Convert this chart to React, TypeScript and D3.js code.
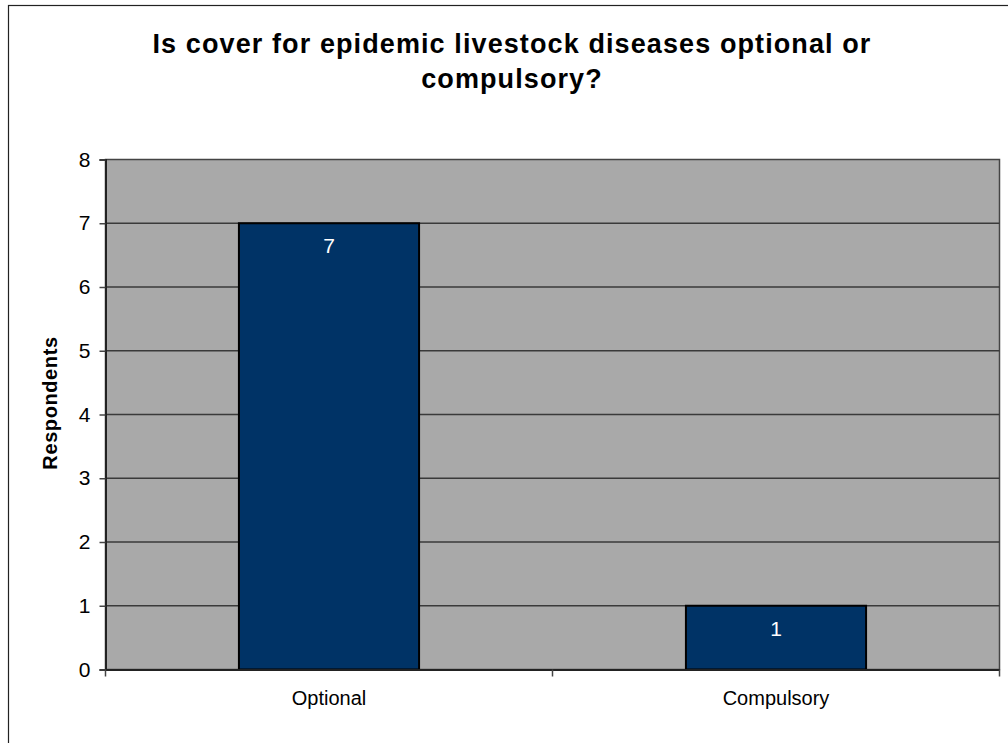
import { useRef, useEffect } from "react";
import * as d3 from "d3";

const categories = ["Optional", "Compulsory"];
const respondents = [7, 1];
const yTicks = [0, 1, 2, 3, 4, 5, 6, 7, 8];
const titleLines = ["Is cover for epidemic livestock diseases optional or", "compulsory?"];
const yAxisTitle = "Respondents";

export default function App() {
  const svgRef = useRef<SVGSVGElement | null>(null);

  useEffect(() => {
    if (!svgRef.current) return;
    const svg = d3.select(svgRef.current);
    svg.selectAll("*").remove();

    const width = 1008;
    const height = 743;
    const plot = { left: 105.5, right: 999.5, top: 159.5, bottom: 669.5 };
    const font = "'Liberation Sans', Arial, sans-serif";

    // outer chart border (runs off the right and bottom edges)
    svg
      .append("rect")
      .attr("x", 8.5)
      .attr("y", 5.5)
      .attr("width", width + 10)
      .attr("height", height + 10)
      .attr("fill", "#fff")
      .attr("stroke", "#222")
      .attr("stroke-width", 1.2);

    const x = d3
      .scaleBand<string>()
      .domain(categories)
      .range([plot.left, plot.right])
      .paddingInner(0.597)
      .paddingOuter(0.2985);

    const y = d3.scaleLinear().domain([0, 8]).range([plot.bottom, plot.top]);

    // plot area
    svg
      .append("rect")
      .attr("x", plot.left)
      .attr("y", plot.top)
      .attr("width", plot.right - plot.left)
      .attr("height", plot.bottom - plot.top)
      .attr("fill", "#a9a9a9")
      .attr("stroke", "#444")
      .attr("stroke-width", 1.5);

    // gridlines
    svg
      .append("g")
      .selectAll("line")
      .data(yTicks.filter((t) => t > 0 && t < 8))
      .join("line")
      .attr("x1", plot.left)
      .attr("x2", plot.right)
      .attr("y1", (d) => y(d))
      .attr("y2", (d) => y(d))
      .attr("stroke", "#3a3a3a")
      .attr("stroke-width", 1.5);

    // bars
    svg
      .append("g")
      .selectAll("rect")
      .data(respondents)
      .join("rect")
      .attr("x", (_, i) => x(categories[i])!)
      .attr("y", (d) => y(d))
      .attr("width", x.bandwidth())
      .attr("height", (d) => y(0) - y(d))
      .attr("fill", "#003366")
      .attr("stroke", "#000")
      .attr("stroke-width", 2);

    // data labels
    svg
      .append("g")
      .selectAll("text")
      .data(respondents)
      .join("text")
      .attr("x", (_, i) => x(categories[i])! + x.bandwidth() / 2)
      .attr("y", (d) => y(d) + 30)
      .attr("text-anchor", "middle")
      .attr("fill", "#fff")
      .style("font-family", font)
      .style("font-size", "21px")
      .text((d) => d);

    // y axis
    const yAxis = svg
      .append("g")
      .attr("transform", `translate(${plot.left},0)`)
      .call(d3.axisLeft(y).tickValues(yTicks).tickSize(6).tickPadding(9).tickFormat(d3.format("d")));
    yAxis.select(".domain").attr("stroke", "#222").attr("stroke-width", 2);
    yAxis.selectAll(".tick line").attr("stroke", "#444").attr("stroke-width", 1.5);
    yAxis
      .selectAll(".tick text")
      .attr("fill", "#000")
      .style("font-family", font)
      .style("font-size", "21px");

    // x axis
    const xAxis = svg
      .append("g")
      .attr("transform", `translate(0,${plot.bottom})`)
      .call(d3.axisBottom(x).tickSize(0).tickPadding(21));
    xAxis.select(".domain").attr("stroke", "#222").attr("stroke-width", 2);
    xAxis
      .selectAll(".tick text")
      .attr("fill", "#000")
      .style("font-family", font)
      .style("font-size", "20px");

    // category separators on x axis
    const edges = [plot.left, ...categories.slice(1).map((c) => x(c)! - (x.step() * x.paddingInner()) / 2), plot.right];
    svg
      .append("g")
      .selectAll("line")
      .data(edges)
      .join("line")
      .attr("x1", (d) => d)
      .attr("x2", (d) => d)
      .attr("y1", plot.bottom)
      .attr("y2", plot.bottom + 7)
      .attr("stroke", "#444")
      .attr("stroke-width", 1.5);

    // title
    svg
      .append("text")
      .attr("text-anchor", "middle")
      .style("font-family", font)
      .style("font-size", "27px")
      .style("font-weight", "bold")
      .style("letter-spacing", "1.1px")
      .selectAll("tspan")
      .data(titleLines)
      .join("tspan")
      .attr("x", 512)
      .attr("y", (_, i) => 53 + i * 35)
      .text((d) => d);

    // y axis title
    svg
      .append("text")
      .attr("transform", `translate(57,403) rotate(-90)`)
      .attr("text-anchor", "middle")
      .style("font-family", font)
      .style("font-size", "20px")
      .style("font-weight", "bold")
      .style("letter-spacing", "0.6px")
      .text(yAxisTitle);
  }, []);

  return (
    <svg
      ref={svgRef}
      width={1008}
      height={743}
      style={{ position: "absolute", left: 0, top: 0, display: "block" }}
    />
  );
}
